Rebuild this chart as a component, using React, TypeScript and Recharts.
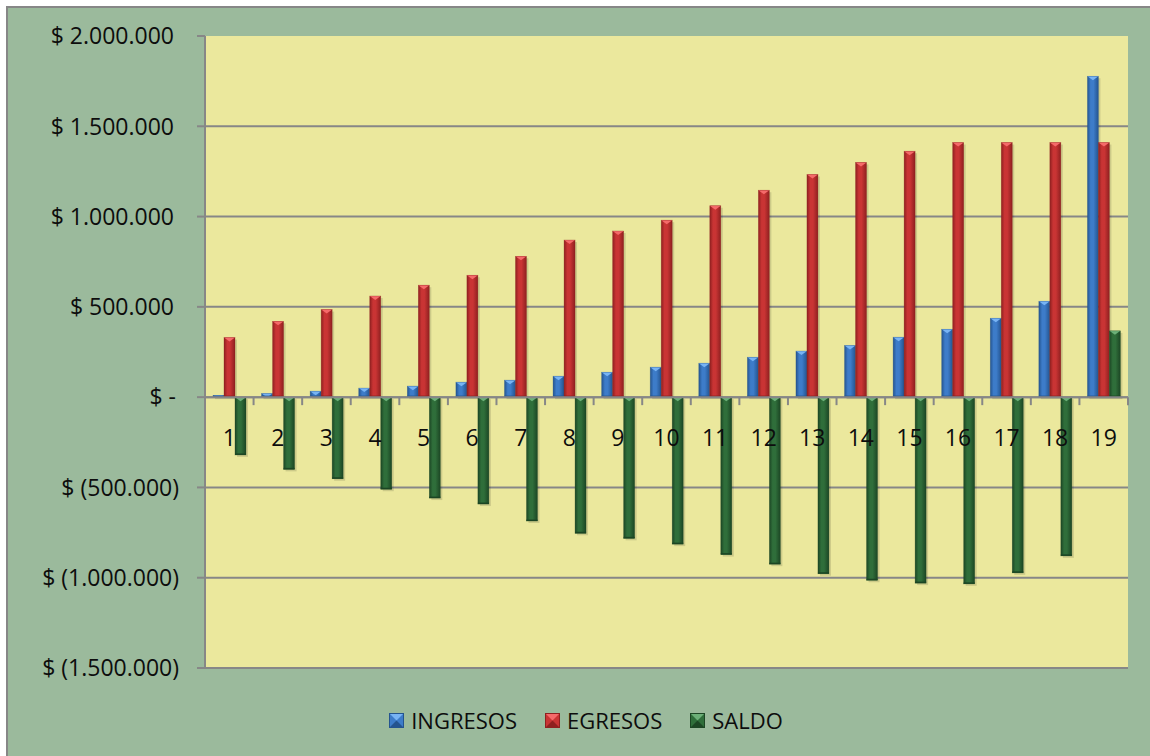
import React from 'react';
import {
  BarChart,
  Bar,
  XAxis,
  YAxis,
  CartesianGrid,
  ReferenceLine,
} from 'recharts';

// Flujo por periodo (en pesos)
const periodos = ['1', '2', '3', '4', '5', '6', '7', '8', '9', '10', '11', '12', '13', '14', '15', '16', '17', '18', '19'];
const ingresos = [10000, 20000, 33000, 50000, 61000, 83000, 94000, 116000, 138000, 166000, 188000, 221000, 255000, 286000, 332000, 376000, 437000, 531000, 1777000];
const egresos = [330000, 420000, 485000, 560000, 620000, 675000, 780000, 870000, 920000, 980000, 1060000, 1146000, 1233000, 1300000, 1362000, 1410000, 1410000, 1410000, 1410000];
const saldo = [-320000, -400000, -452000, -510000, -559000, -592000, -686000, -754000, -782000, -814000, -872000, -925000, -978000, -1014000, -1030000, -1034000, -973000, -879000, 367000];

const yTicks = [-1500000, -1000000, -500000, 0, 500000, 1000000, 1500000, 2000000];
const Y_MIN = -1500000;
const Y_MAX = 2000000;

const data = periodos.map((p, i) => ({
  periodo: p,
  ingresos: ingresos[i],
  egresos: egresos[i],
  saldo: saldo[i],
}));

const FONT = '"Open Sans", "Liberation Sans", sans-serif';
const FONT_SIZE = 23;
const TEXT = '#0d0d0d';
const AXIS = '#878787';

const CHART_W = 1142;
const CHART_H = 748;
const MARGIN = { top: 28, right: 22, bottom: 87, left: 0 };
const Y_AXIS_W = 197;

// where the category axis crosses (value 0) and the width of one category
const plotW = CHART_W - MARGIN.left - MARGIN.right - Y_AXIS_W;
const plotH = CHART_H - MARGIN.top - MARGIN.bottom - 1;
const zeroY = MARGIN.top + (plotH * Y_MAX) / (Y_MAX - Y_MIN);
const band = plotW / periodos.length;

type Palette = { id: string; light: string; mid: string; dark: string };

const BLUE: Palette = { id: 'ing', light: '#78b4f4', mid: '#3d7cc9', dark: '#24548f' };
const RED: Palette = { id: 'egr', light: '#f56a6a', mid: '#c93434', dark: '#8f2020' };
const GREEN: Palette = { id: 'sal', light: '#6cb078', mid: '#2f6e3a', dark: '#1c4624' };

const series = [
  { key: 'ingresos', name: 'INGRESOS', pal: BLUE },
  { key: 'egresos', name: 'EGRESOS', pal: RED },
  { key: 'saldo', name: 'SALDO', pal: GREEN },
];

const formatPesos = (v: number) => {
  if (v === 0) return '$ -';
  const s = Math.abs(v).toString().replace(/\B(?=(\d{3})+(?!\d))/g, '.');
  return v < 0 ? `$ (${s})` : `$ ${s}`;
};

// beveled column like the office chart style
const bevelBar = (pal: Palette) => (props: any) => {
  const { x, y, width, height } = props;
  if (width == null || height == null) return null;
  const top = Math.min(y, y + height);
  const h = Math.abs(height);
  if (h <= 0) return null;
  const cap = Math.min(4, h);
  return (
    <g>
      <rect x={x + 2} y={top + 2} width={width} height={h} fill="rgba(0,0,0,0.13)" />
      <rect x={x} y={top} width={width} height={h} fill={`url(#grad-${pal.id})`} />
      <polygon points={`${x},${top} ${x + width},${top} ${x + width / 2},${top + cap}`} fill={pal.light} />
      <rect x={x} y={top + h - Math.min(1.5, h)} width={width} height={Math.min(1.5, h)} fill={pal.dark} />
      <rect x={x} y={top} width={width} height={h} fill="none" stroke={pal.dark} strokeOpacity={0.5} strokeWidth={0.6} />
    </g>
  );
};

const YTick = (props: any) => {
  const { x, y, payload } = props;
  const v = payload.value as number;
  const shift = v < 0 ? 5 : v === 0 ? 2 : 0;
  return (
    <text x={x + shift} y={y} dy="0.36em" textAnchor="end" fontFamily={FONT} fontSize={FONT_SIZE} fill={TEXT}>
      {formatPesos(v)}
    </text>
  );
};

const XTick = (props: any) => {
  const { x, payload, index } = props;
  const left = x - band / 2;
  return (
    <g>
      <line x1={left} x2={left} y1={zeroY} y2={zeroY + 8} stroke={AXIS} strokeWidth={2} />
      {index === periodos.length - 1 && (
        <line x1={x + band / 2} x2={x + band / 2} y1={zeroY} y2={zeroY + 8} stroke={AXIS} strokeWidth={2} />
      )}
      <text x={x} y={zeroY + 41} dy="0.36em" textAnchor="middle" fontFamily={FONT} fontSize={FONT_SIZE} fill={TEXT}>
        {payload.value}
      </text>
    </g>
  );
};

const LegendMarker: React.FC<{ pal: Palette }> = ({ pal }) => (
  <svg width={15} height={15} style={{ display: 'block' }}>
    <rect x={0} y={0} width={15} height={15} fill={pal.mid} />
    <polygon points="0,0 15,0 7.5,7.5" fill={pal.light} />
    <polygon points="0,15 15,15 7.5,7.5" fill={pal.dark} />
    <rect x={0.5} y={0.5} width={14} height={14} fill="none" stroke={pal.dark} strokeWidth={1} />
  </svg>
);

export default function App() {
  return (
    <div
      style={{
        position: 'fixed',
        left: 6,
        top: 6,
        right: 0,
        bottom: 0,
        borderLeft: `2px solid ${AXIS}`,
        borderTop: `2px solid ${AXIS}`,
        background: '#9bba9c',
        overflow: 'hidden',
      }}
    >
      <BarChart
        width={CHART_W}
        height={CHART_H}
        data={data}
        margin={MARGIN}
        barGap={0}
        barSize={11}
      >
        <defs>
          {series.map(({ pal }) => (
            <linearGradient key={pal.id} id={`grad-${pal.id}`} x1="0" y1="0" x2="1" y2="0">
              <stop offset="0%" stopColor={pal.dark} />
              <stop offset="30%" stopColor={pal.mid} />
              <stop offset="55%" stopColor={pal.mid} />
              <stop offset="100%" stopColor={pal.dark} />
            </linearGradient>
          ))}
        </defs>
        <CartesianGrid
          vertical={false}
          fill="#ebe89d"
          stroke={AXIS}
          strokeWidth={2}
          horizontalValues={yTicks.filter((t) => t !== Y_MAX)}
        />
        <XAxis
          dataKey="periodo"
          height={1}
          axisLine={false}
          tickLine={false}
          interval={0}
          tick={<XTick />}
        />
        <YAxis
          type="number"
          domain={[Y_MIN, Y_MAX]}
          ticks={yTicks}
          width={Y_AXIS_W}
          axisLine={{ stroke: AXIS, strokeWidth: 2 }}
          tickLine={{ stroke: AXIS, strokeWidth: 2 }}
          tickSize={8}
          tickMargin={23}
          tick={<YTick />}
          interval={0}
        />
        <ReferenceLine y={0} stroke={AXIS} strokeWidth={2} />
        {series.map((s) => (
          <Bar
            key={s.key}
            dataKey={s.key}
            name={s.name}
            fill={s.pal.mid}
            shape={bevelBar(s.pal)}
            isAnimationActive={false}
          />
        ))}
      </BarChart>
      <div
        style={{
          position: 'absolute',
          top: 697,
          left: 0,
          width: 1156,
          display: 'flex',
          justifyContent: 'center',
          alignItems: 'center',
          gap: 28,
          fontFamily: FONT,
          fontSize: 22,
          color: TEXT,
        }}
      >
        {series.map((s) => (
          <div key={s.key} style={{ display: 'flex', alignItems: 'center', gap: 7 }}>
            <LegendMarker pal={s.pal} />
            <span>{s.name}</span>
          </div>
        ))}
      </div>
    </div>
  );
}
